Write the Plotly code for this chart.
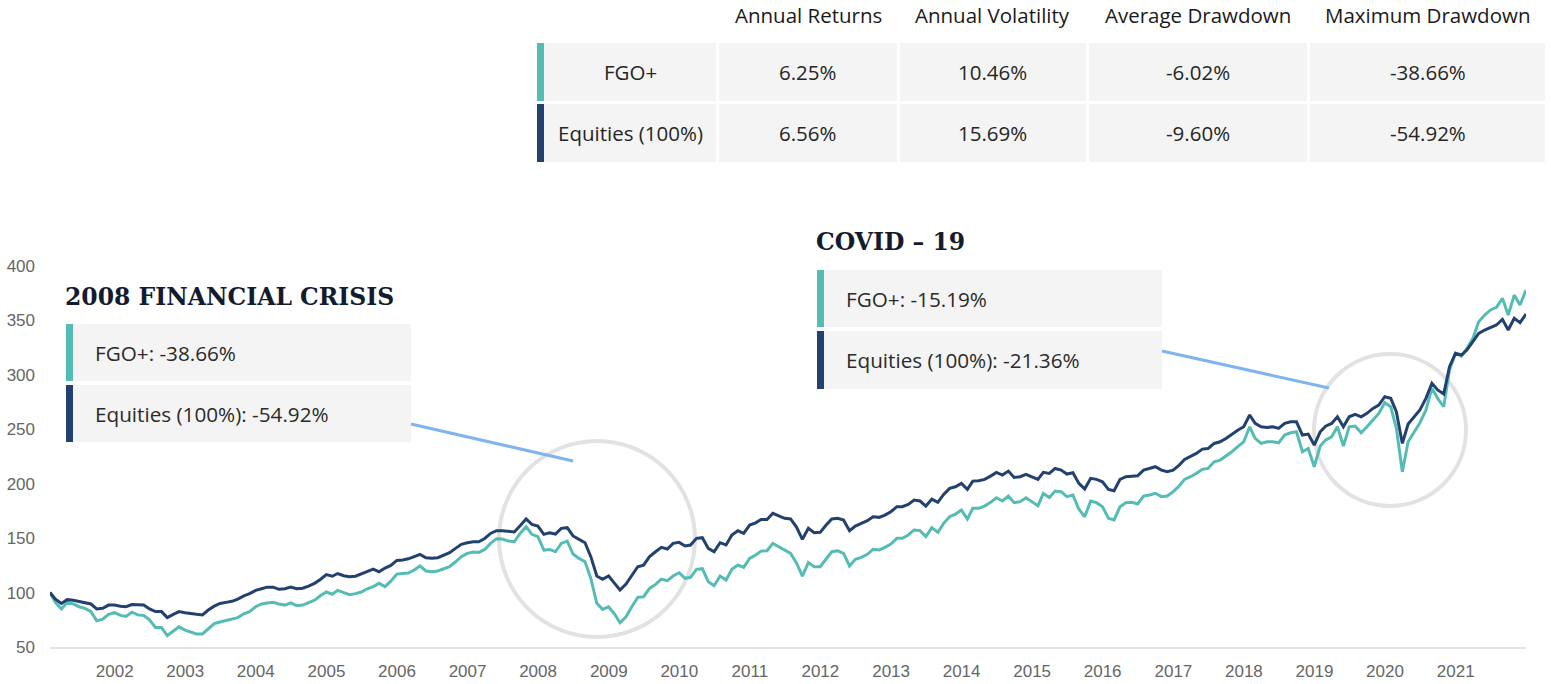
import pandas as pd
import plotly.graph_objects as go

# ---------------- data ----------------
START = "2001-02-01"   # month-end series starting Jan 2001
FGO_PLUS = [
    100, 91, 85, 91, 89.5, 87, 85.5, 82.5, 74, 75.5, 80, 81.5, 79, 78, 82, 79.5, 79, 75, 68, 68,
    60.5, 65, 68.5, 65.5, 63.5, 62, 62, 67, 71.5, 73, 74.5, 76, 77, 80.5, 82.5, 87, 89.5, 90.5, 91, 89.5,
    88.5, 90.5, 88, 88.5, 91, 93, 97, 100.5, 98.5, 102, 100, 98, 99, 100.5, 103.5, 105.5, 108.5, 105.5, 110.5, 117,
    117.5, 118,
    120.7, 124.4, 119.8, 119.2, 119.8, 121.6, 123.7, 128.3, 133, 136, 137.2, 136.9, 139.6, 145.2, 149.5, 149.2,
    147.3, 146.7, 154.3, 160.5, 153.5, 151.3, 139, 139.6, 137.5, 145.2, 147.3, 135.4, 131.4, 128.3, 113.1, 90.1,
    84.6, 87, 80.3, 72.3, 77.8, 87, 95.6, 96.2, 103.8, 107.5, 112.4, 110.9, 115.2, 118.2, 113.1, 114, 121.3, 121.9,
    110, 106.3, 115.2, 111.5, 121.3, 125.3, 123.1, 131.4, 134.5, 138.1, 138.4, 145.2, 142.1,
    139.1, 136, 127, 115.2, 127.5, 123.7, 123.7, 131.4, 137.5, 138.4, 136, 124.4, 130.5, 132.3, 135.1, 139.7,
    139.1, 141.5, 144.6, 149.8, 149.8, 152.9, 157.5, 156.9, 151.4, 159.6, 155.3, 163.6, 169.7, 172.1, 175.8, 167.6,
    177.4, 177.4, 179.5, 182.9, 187.1, 184.1, 188.7, 182.6, 183.5, 187.1, 183.5, 179.8, 191.1, 187.4, 193.3, 192.7,
    188.1, 189.6, 176.5, 169.7, 184.1, 182.6, 178.9, 168.2, 166.7, 178.9, 182.6, 182.9, 181.4, 188.7, 189.6,
    191.2, 188.1, 188.7, 192.7, 197.9, 204, 206.4, 209.5, 213.2, 214.1, 220.2, 221.7, 225.4, 229.4, 234, 238.5,
    252.3, 241.6, 237, 238.5, 238.5, 237.6, 244.7, 246.8, 247.7, 229.4, 232.4, 215.6, 234.6, 240.1, 243.1, 252.3,
    234.6, 252.3, 252.9, 246.8, 252.3, 258.4, 264.6, 274.4, 270.7, 250.8, 211, 238.5, 247.7, 256, 267.6, 287.6,
    278.4, 270.7, 304.4, 319.8, 317.3, 324.3, 333.5, 348.8, 355, 359.6, 362, 370.3, 355, 373.3, 364.2, 378,
]
EQUITIES = [
    100, 94, 90, 93.5, 93, 92, 91, 89.5, 85, 85.5, 88.5, 88.5, 87.5, 87, 89, 88.5, 88.5, 85, 82.5, 82.5,
    77, 80, 82.5, 81.5, 80.5, 80, 79.5, 84, 87.5, 90, 91, 92, 94, 97, 99, 102, 103.5, 105, 105, 103,
    103.5, 105, 103.5, 104, 106, 108.5, 112, 116.5, 115, 117.5, 115.5, 114.5, 115, 117, 119, 121.5, 119, 122.5, 125, 129.5,
    130, 131,
    133, 135, 132, 131.5, 132, 134.5, 136.7, 140.6, 144.3, 145.8, 146.7, 146.7, 149.7, 154.3, 156.8, 156.8,
    156.2, 155.6, 161.4, 167.6, 162.7, 161.1, 153.5, 155, 153.8, 159, 159.6, 152, 148.9, 145.8, 133, 115.2,
    112.2, 115.2, 108.4, 102.4, 107.8, 115.2, 123.7, 125.2, 133, 137.5, 141.5, 140, 145.2, 146.1, 142.8, 143.7,
    149.8, 150.4, 140.6, 137.5, 145.8, 143.7, 152.8, 156.8, 154.3, 162, 164.1, 167.2, 167.2, 172.8, 170.3,
    168.2, 167.6, 160, 148.9, 159, 155, 155.3, 162, 167.6, 168.2, 166.7, 156.9, 161.1, 163.6, 166, 169.7,
    169.1, 171.2, 174.3, 178.9, 178.9, 181, 185, 184.1, 179.5, 185.9, 182.9, 190.2, 195.7, 197.2, 200.3, 194.8,
    202.4, 202.8, 204, 207, 210.4, 208, 211.6, 205.8, 206.4, 208.6, 206.4, 204, 210.4, 209.4, 214, 212.5,
    208.9, 210.1, 200.3, 195.1, 204.9, 204, 201.8, 194.8, 193.6, 204, 206.4, 207, 207.3, 212.5, 214,
    215.6, 212.5, 211, 212.5, 217.1, 222.3, 224.8, 227.8, 231.8, 232.4, 237, 238.5, 241.6, 245.6, 249.2, 252.3,
    263.1, 255.4, 252.3, 251.7, 252.3, 250.8, 255.4, 256.9, 256.9, 244.7, 245.6, 235.5, 247.7, 252.9, 255.4, 261.5,
    252.3, 261.5, 263.7, 261.5, 264.6, 269.2, 272.3, 279.9, 278.4, 266.1, 237, 254.8, 261.5, 267.7, 278.4, 292.2,
    286.1, 282.4, 307.5, 319.8, 318.2, 322.8, 330.5, 338.1, 341.2, 343.6, 345.8, 351, 341.2, 351.9, 347.9, 355.9,
]
DATES = pd.date_range(START, periods=len(EQUITIES), freq="MS") - pd.Timedelta(days=1)

TABLE_COLUMNS = ["Annual Returns", "Annual Volatility", "Average Drawdown", "Maximum Drawdown"]
TABLE_ROWS = ["FGO+", "Equities (100%)"]
FGO_STATS = ["6.25%", "10.46%", "-6.02%", "-38.66%"]
EQ_STATS = ["6.56%", "15.69%", "-9.60%", "-54.92%"]

GFC_TITLE = "2008 FINANCIAL CRISIS"
GFC_LINES = ["FGO+: -38.66%", "Equities (100%): -54.92%"]
COVID_TITLE = "COVID – 19"
COVID_LINES = ["FGO+: -15.19%", "Equities (100%): -21.36%"]

Y_TICKS = [50, 100, 150, 200, 250, 300, 350, 400]

# ---------------- styles ----------------
TEAL = "#55bcb4"
NAVY = "#23416f"
CELL_BG = "#f4f4f4"
CIRCLE = "#e2e2e2"
CONNECT = "#7fb4f0"
TXT = "#262626"
W, H = 1551, 684
L, R, T, B = 50, 1526, 266, 647


def px(x):
    return (x - L) / (R - L)


def py(y):
    return (B - y) / (B - T)


fig = go.Figure()
fig.add_trace(go.Scatter(x=DATES, y=FGO_PLUS, name=TABLE_ROWS[0], mode="lines",
                         line=dict(color=TEAL, width=3)))
fig.add_trace(go.Scatter(x=DATES, y=EQUITIES, name=TABLE_ROWS[1], mode="lines",
                         line=dict(color=NAVY, width=3)))

shapes = []
annotations = []


def rect(x0, y0, x1, y1, color, layer="above"):
    shapes.append(dict(type="rect", xref="paper", yref="paper", x0=px(x0), x1=px(x1),
                       y0=py(y1), y1=py(y0), fillcolor=color, line=dict(width=0), layer=layer))


def text(x, y, s, size=20, color=TXT, family="Open Sans", anchor="center", yanchor="middle"):
    annotations.append(dict(xref="paper", yref="paper", x=px(x), y=py(y), text=s, showarrow=False,
                            xanchor=anchor, yanchor=yanchor, borderpad=0,
                            font=dict(family=family, size=size, color=color)))


# ---- top table ----
col_edges = [(719, 897), (900, 1086), (1089, 1307), (1310, 1545)]
row_edges = [(43, 101), (104, 162)]
bar_colors = [TEAL, NAVY]
row_values = [FGO_STATS, EQ_STATS]
for (c0, c1), name in zip(col_edges, TABLE_COLUMNS):
    text((c0 + c1) / 2, 0, name, size=20.5, color="#1a1a1a", yanchor="top")
for r, (r0, r1) in enumerate(row_edges):
    rect(537, r0, 544, r1, bar_colors[r])
    rect(544, r0, 716, r1, CELL_BG)
    text(630, (r0 + r1) / 2, TABLE_ROWS[r], size=20.5)
    for (c0, c1), v in zip(col_edges, row_values[r]):
        rect(c0, r0, c1, r1, CELL_BG)
        text((c0 + c1) / 2, (r0 + r1) / 2, v, size=20.5)


# ---- callout boxes ----
def callout(xl, title_y, rows_y, title, lines, xr):
    annotations.append(dict(xref="paper", yref="paper", x=px(xl - 3), y=py(title_y), text="<b>%s</b>" % title,
                            showarrow=False, xanchor="left", yanchor="middle",
                            font=dict(family="DejaVu Serif", size=23.5, color="#141b2e")))
    for k, (r0, r1) in enumerate(rows_y):
        rect(xl, r0, xl + 7, r1, bar_colors[k])
        rect(xl + 7, r0, xr, r1, CELL_BG)
        text(xl + 28, (r0 + r1) / 2, lines[k], size=20.7, anchor="left", color="#2b2b2b")


callout(66, 297, [(324, 381), (385, 442)], GFC_TITLE, GFC_LINES, 411)
callout(817, 242, [(270, 327), (331, 389)], COVID_TITLE, COVID_LINES, 1162)

# connectors
for (x0, y0, x1, y1) in [(411, 424, 573, 461), (1162, 351, 1329, 388)]:
    shapes.append(dict(type="line", xref="paper", yref="paper", x0=px(x0), y0=py(y0), x1=px(x1), y1=py(y1),
                       line=dict(color=CONNECT, width=3), layer="above"))

# highlight circles
for (cx, cy, r) in [(597, 539, 98), (1390, 430, 76)]:
    shapes.append(dict(type="circle", xref="paper", yref="paper", x0=px(cx - r), x1=px(cx + r),
                       y0=py(cy + r), y1=py(cy - r), line=dict(color=CIRCLE, width=4), layer="below"))

fig.update_layout(
    width=W, height=H,
    margin=dict(l=L, r=W - R, t=T, b=H - B, autoexpand=False),
    paper_bgcolor="white", plot_bgcolor="white",
    showlegend=False,
    shapes=shapes, annotations=annotations,
    xaxis=dict(type="date", range=[DATES[0], DATES[-1]], showgrid=False, zeroline=False,
               tick0="2002-01-01", dtick="M12", tickformat="%Y", ticks="",
               showline=True, linecolor="#e3e3e3", linewidth=2,
               tickfont=dict(family="Liberation Sans, Arial", size=17, color="#666666"),
               ticklabelstandoff=8),
    yaxis=dict(range=[50, 400], tickvals=Y_TICKS, showgrid=False, zeroline=False, ticks="",
               tickfont=dict(family="Liberation Sans, Arial", size=17, color="#666666"),
               ticklabelstandoff=14),
    hovermode="x unified",
)

fig.write_html("out.html")
